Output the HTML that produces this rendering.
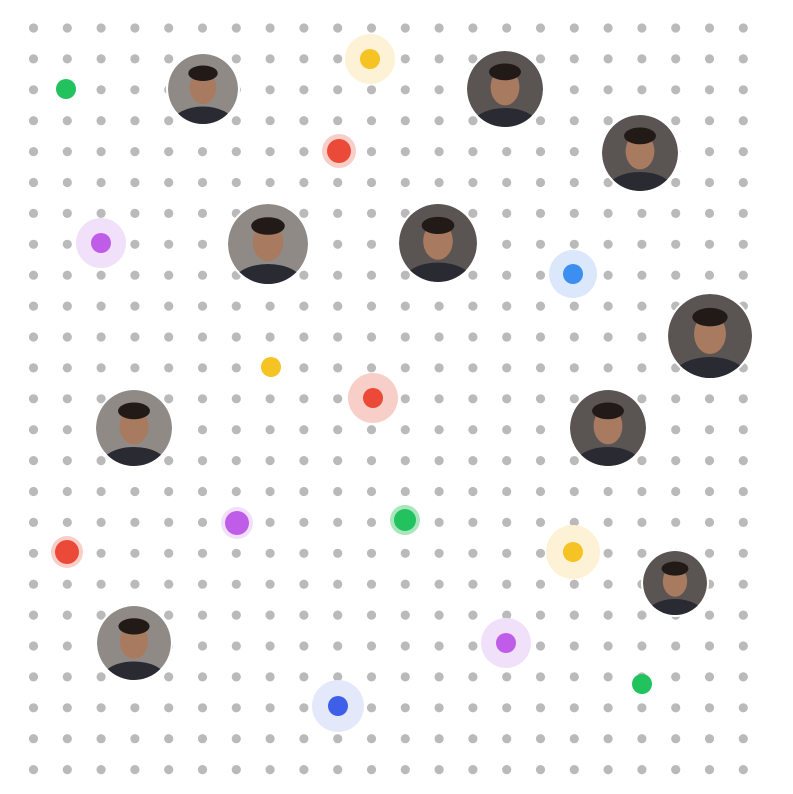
<!DOCTYPE html>
<html><head><meta charset="utf-8"><style>
html,body{margin:0;padding:0;background:#fff;width:793px;height:794px;overflow:hidden}
svg{display:block}
</style></head><body>
<svg id="s" width="793" height="794" xmlns="http://www.w3.org/2000/svg">
<defs id="d">
<radialGradient id="face" cx="50%" cy="40%" r="60%"><stop offset="0%" stop-color="#b48a70"/><stop offset="55%" stop-color="#6e5448"/><stop offset="100%" stop-color="#3a3434"/></radialGradient>
<radialGradient id="faceL" cx="45%" cy="45%" r="60%"><stop offset="0%" stop-color="#a77a5e"/><stop offset="60%" stop-color="#8a7464"/><stop offset="100%" stop-color="#bdb6ae"/></radialGradient>
</defs>
</svg>
<script>
const cols=[33.5,67.3,101.1,134.9,168.7,202.5,236.3,270.1,303.9,337.7,371.5,405.3,439.1,472.9,506.7,540.5,574.3,608.1,641.9,675.7,709.5,743.3];
const rows=[28,58.9,89.8,120.7,151.6,182.5,213.4,244.3,275.2,306.1,337,367.9,398.8,429.7,460.6,491.5,522.4,553.3,584.2,615.1,646,676.9,707.8,738.7,769.6];
const dotX=[66,370,339,101,573,271,373,237,405,67,573,506,642,338];
const dotY=[89,59,151,243,274,367,398,523,520,552,552,643,684,706];
const dotHalo=[0,25,17,25,24,0,25,16,15,16,27,25,0,26];
const dotCore=[10,10,12,10,10,10,10,12,11,12,10,10,10,10];
const dotKind=['green','yellow','red','purple','blue','yellow','red','purple','green','red','yellow','purple','green','indigo'];
const photoX=[203,505,640,268,438,710,134,608,675,134];
const photoY=[89,89,153,244,243,336,428,428,583,643];
const photoR=[35,38,38,40,39,42,38,38,32,37];
const core={green:'#22c35e',yellow:'#f6c324',red:'#ea4a37',purple:'#c05de8',blue:'#3c8ef0',indigo:'#3f5fe8'};
const halo={green:'#a9e6bd',yellow:'#fdf2d6',red:'#f8cfc8',purple:'#f1e0fa',blue:'#dbe8fb',indigo:'#e4e8fb'};
const NS='http://www.w3.org/2000/svg',s=document.getElementById('s'),defs=document.getElementById('d');
function mk(t,a,p){const e=document.createElementNS(NS,t);for(const k in a)e.setAttribute(k,a[k]);(p||s).appendChild(e);return e;}
cols.forEach(x=>rows.forEach(y=>{const e=mk('circle',{cx:x,cy:y,r:4.6,fill:'#bababa'});

}));
dotX.forEach((x,i)=>{
 if(dotHalo[i]){const h=mk('circle',{cx:x,cy:dotY[i],r:dotHalo[i],fill:halo[dotKind[i]]});
 
 }
 const c=mk('circle',{cx:x,cy:dotY[i],r:dotCore[i],fill:core[dotKind[i]]});
 
 
});
photoX.forEach((x,i)=>{
 const y=photoY[i],r=photoR[i];
 const cp=mk('clipPath',{id:'cp'+i},defs);
 mk('circle',{cx:x,cy:y,r:r},cp);
 const w=mk('circle',{cx:x,cy:y,r:r+2,fill:'#fff'});
 
 
 const g=mk('g',{'clip-path':'url(#cp'+i+')'});
 
 
 mk('circle',{cx:x,cy:y,r:r,fill:(i%3==0)?'#8f8a86':'#5a5452'},g);
 mk('ellipse',{cx:x,cy:y-r*0.05,rx:r*0.38,ry:r*0.48,fill:'#a87a5f'},g);
 mk('ellipse',{cx:x,cy:y-r*0.45,rx:r*0.42,ry:r*0.22,fill:'#221a17'},g);
 mk('ellipse',{cx:x,cy:y+r*0.95,rx:r*0.85,ry:r*0.45,fill:'#2a2a33'},g);
});
</script>
</body></html>
